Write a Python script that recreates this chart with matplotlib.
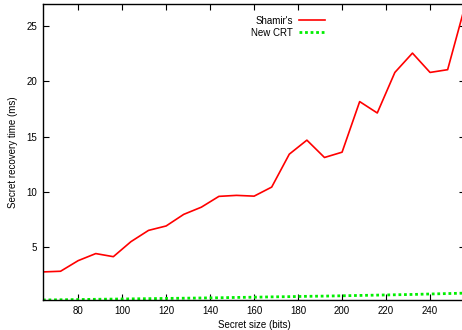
import numpy as np
import matplotlib
matplotlib.use("Agg")
import matplotlib.pyplot as plt

plt.rcParams['font.family'] = ['Liberation Sans', 'DejaVu Sans']

secret_bits = [64, 72, 80, 88, 96, 104, 112, 120, 128, 136, 144, 152, 160,
               168, 176, 184, 192, 200, 208, 216, 224, 232, 240, 248, 256]
shamir_ms = [2.74, 2.8, 3.76, 4.4, 4.12, 5.48, 6.5, 6.9, 7.95, 8.6, 9.58, 9.67, 9.6,
             10.42, 13.4, 14.67, 13.1, 13.58, 18.16, 17.13, 20.8, 22.55, 20.8, 21.05, 26.9]
crt_ms = [0.2, 0.22, 0.24, 0.26, 0.28, 0.3, 0.32, 0.34, 0.36, 0.38, 0.4, 0.43, 0.45,
          0.48, 0.5, 0.53, 0.55, 0.58, 0.61, 0.64, 0.67, 0.7, 0.74, 0.78, 0.82]

fig = plt.figure(figsize=(4.62, 3.30), dpi=100)
ax = fig.add_axes([0.093, 0.091, 0.914, 0.897])

ax.plot(secret_bits, shamir_ms, color='#ff0000', linewidth=1.2, label="Shamir's")
ax.plot(secret_bits, crt_ms, color='#00ee00', linewidth=2.0, linestyle=(0, (1, 1)),
        label='New CRT')

ax.set_xlim(64, 256)
ax.set_ylim(0.2, 27)
ax.set_xticks([80, 100, 120, 140, 160, 180, 200, 220, 240])
ax.set_yticks([5, 10, 15, 20, 25])
ax.tick_params(direction='in', top=True, right=True, length=4, width=0.8,
               labelsize=7, pad=4)
for s in ax.spines.values():
    s.set_linewidth(1.0)

ax.set_xlabel('Secret size (bits)', fontsize=7, labelpad=3)
ax.set_ylabel('Secret recovery time (ms)', fontsize=7, labelpad=6)

ax.legend(loc='upper left', bbox_to_anchor=(0.473, 0.99), frameon=False,
          markerfirst=False, fontsize=7, handlelength=2.7, handletextpad=0.6,
          labelspacing=0.2, borderpad=0.4)

fig.savefig('out.png', dpi=100)
